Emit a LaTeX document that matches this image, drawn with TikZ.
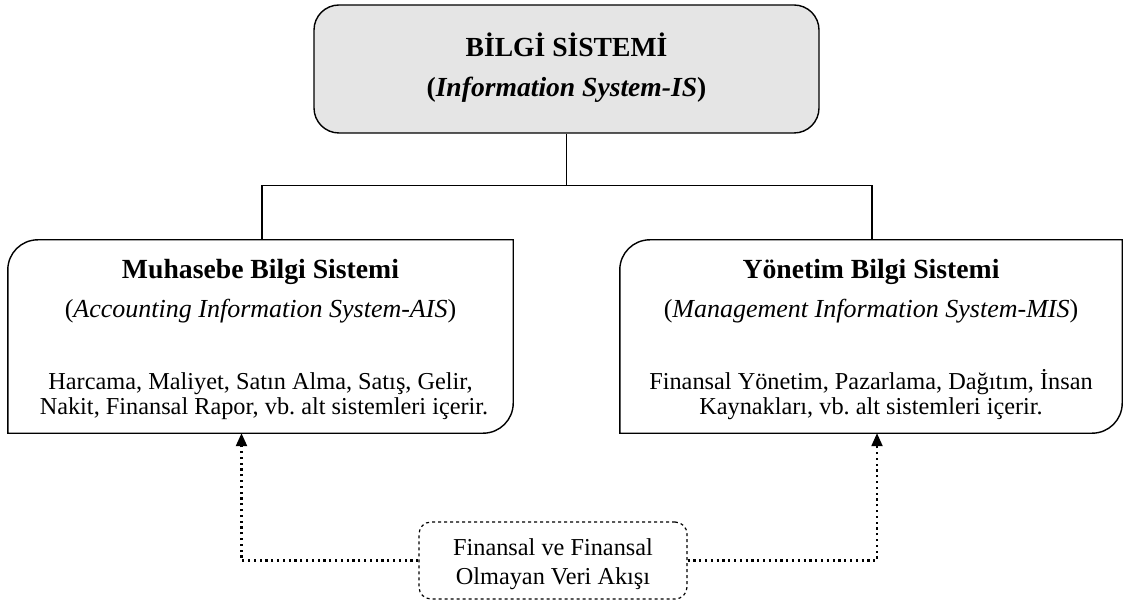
\documentclass[tikz,border=0pt]{standalone}
\usepackage{fontspec}
\setmainfont{Liberation Serif}
\usetikzlibrary{arrows.meta}
\frenchspacing
\begin{document}
\begin{tikzpicture}[x=1pt,y=1pt,
  boxline/.style={line width=1.4pt},
  txt/.style={anchor=base,inner sep=0pt,font=\fontsize{24.3}{25}\selectfont},
  sub/.style={anchor=base,inner sep=0pt,font=\fontsize{26}{28}\selectfont},
  head/.style={anchor=base,inner sep=0pt,font=\fontsize{27.7}{30}\selectfont\bfseries},
  ttl/.style={anchor=base,inner sep=0pt,font=\fontsize{27.6}{30}\selectfont\bfseries},
  flow/.style={line width=2.2pt,dash pattern=on 2.2pt off 3.6pt,-{Triangle[length=13pt,width=11pt]}},
  link/.style={line width=1.4pt}
]
\useasboundingbox (0,0) rectangle (1124,-601);

% main box
\node[boxline,draw,fill=black!10,rounded corners=25pt,minimum width=505pt,minimum height=128pt,inner sep=0pt] (T) at (566.5,-69) {};
\node[ttl] (t1) at (566.5,-57) {BİLGİ SİSTEMİ};
\node[ttl] (t2) at (566.5,-97) {(\textit{Information System-IS})};

% sub-system boxes (outline drawn below with two rounded corners)
\node[minimum width=505pt,minimum height=193pt,inner sep=0pt] (L) at (260.5,-336.5) {};
\node[minimum width=502pt,minimum height=193pt,inner sep=0pt] (R) at (871,-336.5) {};
\foreach \b in {L,R}{
  \draw[boxline] (\b.north east) -- ([xshift=30pt]\b.north west)
    arc[start angle=90,end angle=180,radius=30pt] -- (\b.south west)
    -- ([xshift=-30pt]\b.south east)
    arc[start angle=270,end angle=360,radius=30pt] -- cycle;
}

\node[head] (l1) at (260.5,-279) {Muhasebe Bilgi Sistemi};
\node[sub] (l2) at (260.5,-318) {(\textit{Accounting Information System-AIS})};
\node[txt] (l3) at (260.5,-389) {Harcama, Maliyet, Satın Alma, Satış, Gelir,};
\node[txt] (l4) at (264,-414) {Nakit, Finansal Rapor, vb. alt sistemleri içerir.};

\node[head] (r1) at (871,-279) {Yönetim Bilgi Sistemi};
\node[sub] (r2) at (871,-318) {(\textit{Management Information System-MIS})};
\node[txt] (r3) at (871,-389) {Finansal Yönetim, Pazarlama, Dağıtım, İnsan};
\node[txt] (r4) at (871,-414) {Kaynakları, vb. alt sistemleri içerir.};

% data flow box
\node[line width=1.2pt,draw,dashed,rounded corners=12pt,minimum width=268pt,minimum height=77pt,inner sep=0pt] (B) at (553,-560.5) {};
\node[txt] (b1) at (553,-555) {Finansal ve Finansal};
\node[txt] (b2) at (553,-584) {Olmayan Veri Akışı};

% hierarchy connectors
\draw[link] (T.south) -- ++(0,-52) coordinate (J);
\draw[link] (J) -| ([xshift=1.5pt]L.north);
\draw[link] (J) -| ([xshift=1pt]R.north);

% data flow arrows
\draw[flow] (B.west) -| ([xshift=-19pt]L.south);
\draw[flow] (B.east) -| ([xshift=6pt]R.south);
\end{tikzpicture}
\end{document}
